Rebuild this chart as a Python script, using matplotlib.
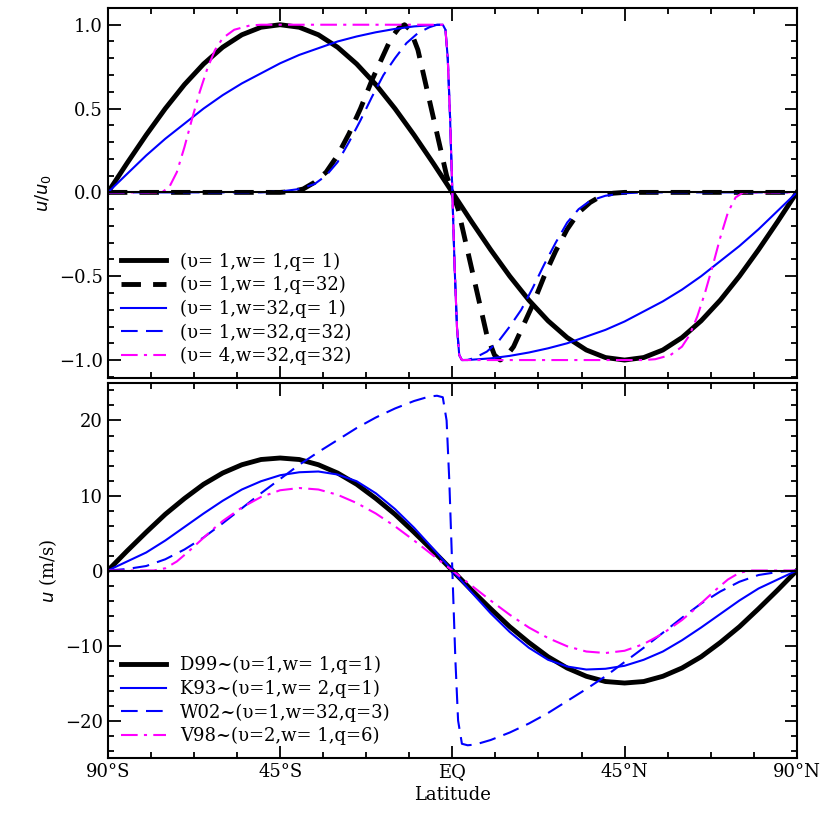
import numpy as np
import matplotlib
matplotlib.use("Agg")
import matplotlib.pyplot as plt

plt.rcParams['font.family'] = ['DejaVu Serif']
plt.rcParams['font.size'] = 13

# ---- top panel data (latitude, u/u0), southern half; northern half is antisymmetric ----
lat_sin = [-90, -85, -80, -75, -70, -65, -60, -55, -50, -45, -40, -35, -30, -25, -20, -15, -10, -5, 0]
val_sin = [0, 0.174, 0.342, 0.5, 0.643, 0.766, 0.866, 0.940, 0.985, 1.0, 0.985, 0.940, 0.866,
           0.766, 0.643, 0.5, 0.342, 0.174, 0]

lat_bd = [-90, -45, -42, -39, -36, -33, -30, -27, -24, -21, -18, -16, -14, -12.5, -11, -9, -7, -5, -3, -1.5, 0]
val_bd = [0, 0, 0.005, 0.02, 0.06, 0.12, 0.22, 0.35, 0.5, 0.67, 0.82, 0.92, 0.98, 1.0, 0.97,
          0.85, 0.65, 0.45, 0.25, 0.1, 0]

lat_bs = [-90, -85, -80, -75, -70, -65, -60, -55, -50, -45, -40, -35, -30, -25, -20, -15, -10, -5,
          -2.5, -1.8, -1.2, -0.6, 0]
val_bs = [0, 0.11, 0.22, 0.32, 0.41, 0.5, 0.58, 0.65, 0.71, 0.77, 0.82, 0.86, 0.9, 0.93, 0.955,
          0.975, 0.99, 0.998, 1.0, 0.97, 0.8, 0.45, 0]

lat_bld = [-90, -50, -45, -40, -36, -33, -30, -27, -24, -21, -18, -15, -12, -9, -6, -4, -2.5,
           -1.8, -1.2, -0.6, 0]
val_bld = [0, 0, 0.005, 0.02, 0.05, 0.1, 0.18, 0.3, 0.43, 0.57, 0.7, 0.8, 0.89, 0.95, 0.985,
           1.0, 1.0, 0.97, 0.8, 0.45, 0]

lat_m = [-90, -76, -74, -72, -70, -68, -66, -64, -62, -60, -57, -53, -50, -2.5, -1.8, -1.2, -0.6, 0]
val_m = [0, 0, 0.03, 0.12, 0.27, 0.44, 0.6, 0.74, 0.85, 0.92, 0.97, 0.995, 1.0, 1.0, 0.97, 0.8, 0.45, 0]

labels_top = ['(υ= 1,w= 1,q= 1)', '(υ= 1,w= 1,q=32)', '(υ= 1,w=32,q= 1)',
              '(υ= 1,w=32,q=32)', '(υ= 4,w=32,q=32)']

# ---- bottom panel data (m/s) ----
val_d99 = [0, 2.6, 5.1, 7.5, 9.6, 11.5, 13.0, 14.1, 14.8, 15.0, 14.8, 14.1, 13.0, 11.5, 9.6,
           7.5, 5.1, 2.6, 0]
lat_k93 = [-90, -85, -80, -75, -70, -65, -60, -55, -50, -45, -40, -35, -30, -25, -20, -15, -10, -5, 0]
val_k93 = [0, 1.2, 2.4, 4.0, 5.8, 7.6, 9.3, 10.8, 11.9, 12.7, 13.1, 13.2, 12.8, 11.9, 10.3,
           8.2, 5.7, 2.9, 0]
lat_w02 = [-90, -85, -80, -75, -70, -65, -60, -55, -50, -45, -40, -35, -30, -25, -20, -15, -10,
           -6, -4, -2.5, -1.5, -0.8, 0]
val_w02 = [0, 0.2, 0.6, 1.5, 2.8, 4.4, 6.3, 8.3, 10.3, 12.2, 14.1, 15.8, 17.4, 19.0, 20.4, 21.6,
           22.6, 23.2, 23.3, 23.1, 20, 12, 0]
lat_v98 = [-90, -78, -75, -72, -69, -66, -63, -60, -55, -50, -45, -40, -35, -30, -25, -20, -15, -10, -5, 0]
val_v98 = [0, 0, 0.3, 1.2, 2.5, 3.9, 5.3, 6.6, 8.4, 9.8, 10.7, 11.0, 10.8, 10.1, 9.0, 7.6, 5.9,
           4.0, 2.0, 0]
labels_bot = ['D99~(υ=1,w= 1,q=1)', 'K93~(υ=1,w= 2,q=1)',
              'W02~(υ=1,w=32,q=3)', 'V98~(υ=2,w= 1,q=6)']

xticks = [-90, -45, 0, 45, 90]
xticklabels = ['90°S', '45°S', 'EQ', '45°N', '90°N']


def full(lat, val):
    lat = np.asarray(lat, float); val = np.asarray(val, float)
    l = np.concatenate([lat, -lat[::-1][1:]])
    v = np.concatenate([val, -val[::-1][1:]])
    return l, v


fig = plt.figure(figsize=(8.3, 8.21), dpi=100)
ax1 = fig.add_axes([0.130, 0.5396, 0.830, 0.4507])
ax2 = fig.add_axes([0.130, 0.0767, 0.830, 0.4568])

ax1.plot(*full(lat_sin, val_sin), color='black', lw=3.5, label=labels_top[0])
ax1.plot(*full(lat_bd, val_bd), color='black', lw=3.5, ls=(0, (4, 2.5)), label=labels_top[1])
ax1.plot(*full(lat_bs, val_bs), color='#0000ff', lw=1.5, label=labels_top[2])
ax1.plot(*full(lat_bld, val_bld), color='#0000ff', lw=1.5, ls=(0, (8, 4)), label=labels_top[3])
ax1.plot(*full(lat_m, val_m), color='#ff00ff', lw=1.5, ls=(0, (8, 3, 1.5, 3)), label=labels_top[4])
ax1.axhline(0, color='black', lw=1.5)
ax1.set_ylim(-1.107, 1.10)
ax1.set_yticks([-1.0, -0.5, 0.0, 0.5, 1.0])
ax1.set_yticklabels(['−1.0', '−0.5', '0.0', '0.5', '1.0'])
ax1.set_ylabel('$u/u_0$')
ax1.legend(loc='lower left', frameon=False, handlelength=2.5, borderaxespad=0.3,
           labelspacing=0.3, fontsize=13)

ax2.plot(*full(lat_sin, val_d99), color='black', lw=3.5, label=labels_bot[0])
ax2.plot(*full(lat_k93, val_k93), color='#0000ff', lw=1.5, label=labels_bot[1])
ax2.plot(*full(lat_w02, val_w02), color='#0000ff', lw=1.5, ls=(0, (8, 4)), label=labels_bot[2])
ax2.plot(*full(lat_v98, val_v98), color='#ff00ff', lw=1.5, ls=(0, (8, 3, 1.5, 3)), label=labels_bot[3])
ax2.axhline(0, color='black', lw=1.5)
ax2.set_ylim(-25, 25)
ax2.set_yticks([-20, -10, 0, 10, 20])
ax2.set_yticklabels(['−20', '−10', '0', '10', '20'])
ax2.set_ylabel('$u$ (m/s)')
ax2.set_xlabel('Latitude')
ax2.legend(loc='lower left', frameon=False, handlelength=2.5, borderaxespad=0.3,
           labelspacing=0.3, fontsize=13)

for ax in (ax1, ax2):
    ax.set_xlim(-90, 90)
    ax.set_xticks(xticks)
    ax.minorticks_on()
    ax.tick_params(which='both', direction='in', top=True, right=True, width=1.3)
    ax.tick_params(which='major', length=9)
    ax.tick_params(which='minor', length=4)
    for s in ax.spines.values():
        s.set_linewidth(1.5)
ax1.set_xticklabels([])
ax2.set_xticklabels(xticklabels)

fig.savefig('out.png', dpi=100)
